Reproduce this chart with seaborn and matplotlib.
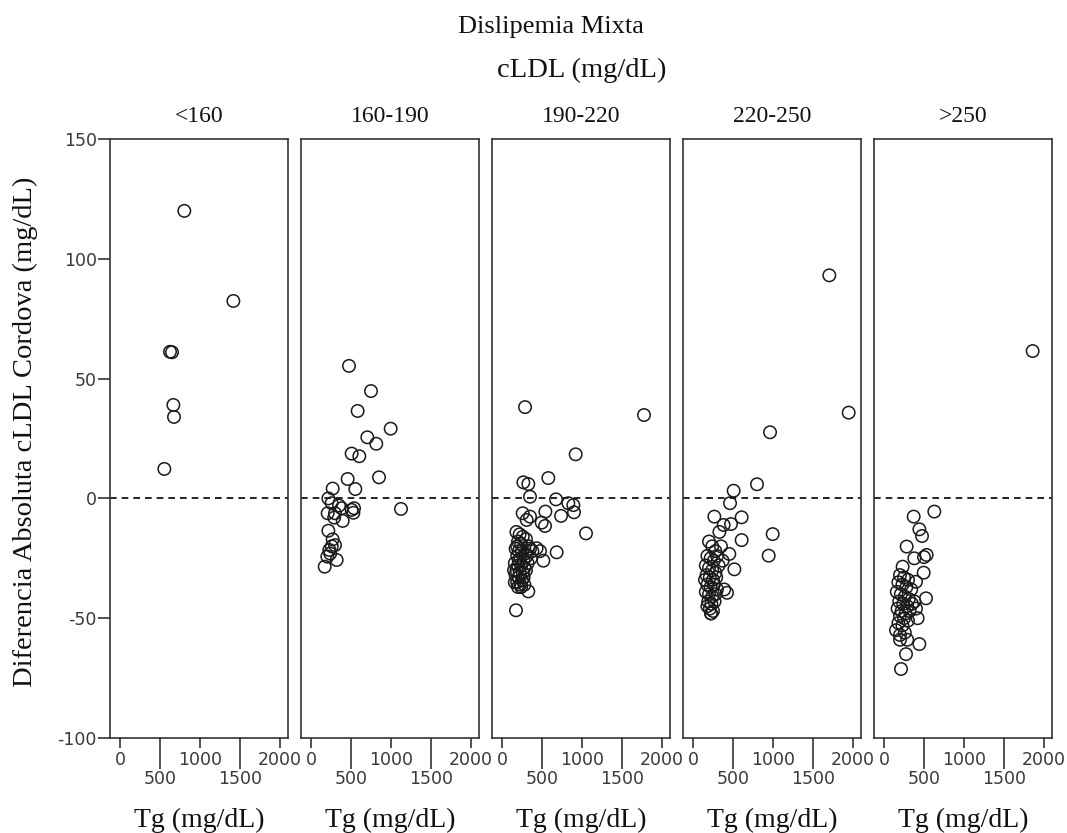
import numpy as np
import pandas as pd
import matplotlib
matplotlib.use("Agg")
import matplotlib.pyplot as plt
import seaborn as sns

# ---------------- data ----------------
categories = ["<160", "160-190", "190-220", "220-250", ">250"]

tg_lt160 = [804, 1417, 625, 650, 667, 675, 554]
dif_lt160 = [120, 82.4, 61.2, 61.0, 39, 34, 12.3]

tg_160_190 = [475, 750, 583, 996, 704, 816, 508, 604, 458, 850, 554, 271, 1125,
              217, 258, 208, 300, 383, 508, 538, 396, 217, 271, 300, 229, 204,
              321, 171, 240, 350, 290, 530, 260]
dif_160_190 = [55.3, 44.8, 36.5, 29.1, 25.5, 22.8, 18.7, 17.6, 8.1, 8.8, 3.9, 4.1, -4.4,
               0, -2, -6.2, -6.2, -4.1, -4.8, -4.1, -9.4, -13.5, -17.1, -19.5, -21.5, -24.3,
               -25.7, -28.5, -23, -3, -8, -6, -20]

tg_190_220 = [288, 1775, 921, 579, 267, 329, 350, 675, 829, 892, 900, 542, 258, 738,
              350, 496, 538, 1050, 308, 683, 517, 433, 475, 329, 175,
              180, 220, 260, 300, 200, 240, 330, 170, 210, 250, 290, 350, 190, 230,
              270, 310, 160, 200, 240, 280, 180, 220, 260, 300, 170, 210, 250, 190,
              230, 270, 200, 160, 240, 280, 320, 360, 210, 150, 380, 190]
dif_190_220 = [38.1, 34.8, 18.4, 8.5, 6.7, 6.0, 0.7, -0.4, -2.0, -2.8, -5.8, -5.5, -6.2, -7.3,
               -7.6, -10.1, -11.5, -14.6, -9.0, -22.5, -26.0, -20.8, -22.0, -38.8, -46.7,
               -14, -15, -16, -17, -18, -19, -20, -21, -22, -22, -23, -21, -24, -25,
               -26, -24, -27, -28, -28, -29, -30, -31, -31, -30, -32, -33, -34, -35,
               -36, -33, -37, -35, -37, -36, -27, -25, -26, -30, -22, -20]

tg_220_250 = [1704, 1946, 963, 800, 508, 463, 267, 608, 383, 475, 996, 608, 946, 454,
              517, 425, 225,
              200, 240, 280, 180, 220, 260, 300, 160, 200, 240, 280, 320, 170, 210,
              250, 290, 180, 220, 260, 300, 160, 200, 240, 280, 190, 230, 270, 210,
              250, 180, 225, 350, 330, 370, 150, 390]
dif_220_250 = [93.1, 35.8, 27.6, 5.9, 3.2, -2.0, -7.6, -7.9, -11.1, -10.7, -14.9, -17.4, -23.9, -23.2,
               -29.6, -39.4, -48.0,
               -18, -20, -22, -24, -25, -26, -24, -28, -29, -30, -31, -28, -32, -33,
               -34, -33, -36, -37, -36, -38, -39, -40, -41, -40, -43, -44, -43, -46,
               -47, -45, -48, -20, -14, -26, -34, -38]

tg_gt250 = [1858, 629, 371, 442, 475, 283, 533, 500, 379, 233, 496, 400, 525,
            442, 275, 213, 200, 290,
            200, 250, 300, 180, 230, 280, 340, 160, 210, 260, 310, 190, 240, 290,
            350, 170, 220, 270, 320, 200, 250, 300, 180, 230, 400, 420, 150, 200,
            260, 380]
dif_gt250 = [61.5, -5.5, -7.6, -12.9, -15.7, -20.1, -23.6, -24.5, -25.0, -28.5, -31.0, -34.8, -41.7,
             -60.8, -65.0, -71.2, -59, -59,
             -32, -33, -34, -35, -36, -37, -38, -39, -40, -41, -42, -43, -44, -45,
             -44, -46, -47, -48, -47, -49, -50, -51, -52, -53, -46, -50, -55, -57,
             -56, -43]

x_major_ticks = [0, 1000, 2000]
x_minor_ticks = [500, 1500]
y_ticks = [-100, -50, 0, 50, 100, 150]

tg_lists = [tg_lt160, tg_160_190, tg_190_220, tg_220_250, tg_gt250]
dif_lists = [dif_lt160, dif_160_190, dif_190_220, dif_220_250, dif_gt250]
df = pd.concat([pd.DataFrame({"Tg": t, "Dif": d, "cLDL": c})
                for t, d, c in zip(tg_lists, dif_lists, categories)], ignore_index=True)

# ---------------- figure ----------------
sns.set_theme(style="white")
plt.rcParams["font.family"] = ["DejaVu Sans"]
serif = ["Liberation Serif", "DejaVu Serif"]

W, H = 1067, 833
fig = plt.figure(figsize=(W / 100, H / 100), dpi=100)
fig.patch.set_facecolor("white")

lefts = [110, 301, 492, 683, 874]
pw = 178
top_px, bot_px = 139, 738
tick_col = "#333333"
lab_col = "#3a3a3a"

for i, (cat, left) in enumerate(zip(categories, lefts)):
    ax = fig.add_axes([left / W, (H - bot_px) / H, pw / W, (bot_px - top_px) / H])
    sub = df[df["cLDL"] == cat]
    sns.scatterplot(data=sub, x="Tg", y="Dif", ax=ax, marker="o", s=80,
                    facecolor="none", edgecolor="#1a1a1a", linewidth=1.1, legend=False)
    ax.axhline(0, color="black", linestyle=(0, (4, 3)), linewidth=1.2, zorder=0)
    ax.set_xlim(-125, 2100)
    ax.set_ylim(-100, 150)
    for sp in ax.spines.values():
        sp.set_visible(True)
        sp.set_color(tick_col)
        sp.set_linewidth(1.2)
    ax.set_xticks(x_major_ticks, labels=[str(v) for v in x_major_ticks])
    ax.set_xticks(x_minor_ticks, labels=[str(v) for v in x_minor_ticks], minor=True)
    ax.tick_params(axis="x", which="major", direction="out", length=7.5, width=1.2,
                   color=tick_col, pad=2, labelsize=12.5, labelcolor=lab_col, bottom=True)
    ax.tick_params(axis="x", which="minor", direction="out", length=22, width=1.2,
                   color=tick_col, pad=1, labelsize=12.5, labelcolor=lab_col, bottom=True)
    if i == 0:
        ax.set_yticks(y_ticks, labels=[str(v) for v in y_ticks])
        ax.tick_params(axis="y", direction="out", length=8.5, width=1.2, color=tick_col,
                       pad=1, labelsize=12.5, labelcolor=lab_col, left=True)
    else:
        ax.set_yticks([])
    ax.set_ylabel("")
    ax.set_xlabel("Tg (mg/dL)", fontfamily=serif, fontsize=20, color="#111111", labelpad=14)
    ax.set_title(cat, fontfamily=serif, fontsize=17, color="#111111", pad=12)
    ax.grid(False)

fig.text(551 / W, 1 - 27 / H, "Dislipemia Mixta", ha="center", va="center",
         fontfamily=serif, fontsize=19, color="#111111")
fig.text(582 / W, 1 - 70 / H, "cLDL (mg/dL)", ha="center", va="center",
         fontfamily=serif, fontsize=20.5, color="#111111")
fig.text(25 / W, 1 - 432 / H, "Diferencia Absoluta cLDL Cordova (mg/dL)", ha="center",
         va="center", rotation=90, fontfamily=serif, fontsize=20.5, color="#111111")

fig.savefig("out.png", dpi=100, facecolor="white")
